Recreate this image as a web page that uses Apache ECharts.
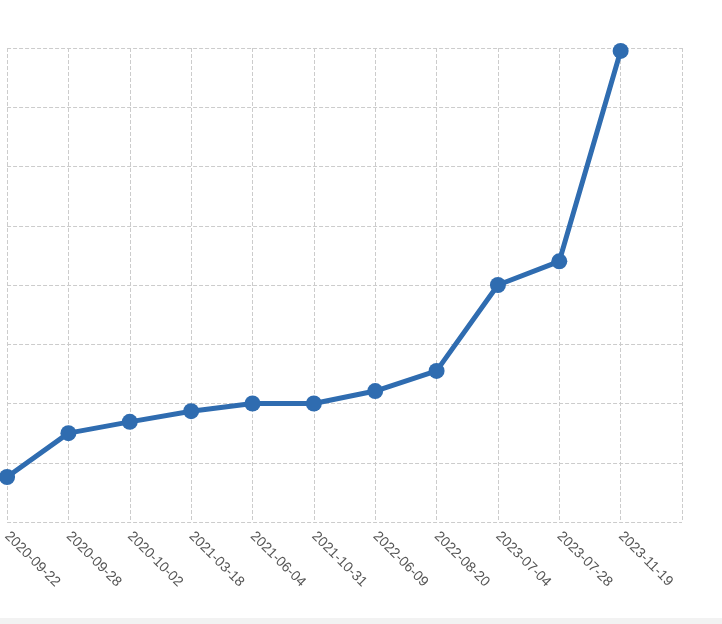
<!DOCTYPE html>
<html>
<head>
<meta charset="utf-8">
<script src="https://cdn.jsdelivr.net/npm/echarts@6/dist/echarts.min.js"></script>
<style>
  html, body { margin: 0; padding: 0; background: #f2f2f2; }
  #main { width: 722px; height: 618px; background: #fff; }
</style>
</head>
<body>
<div id="main"></div>
<script>
var dates = ['2020-09-22', '2020-09-28', '2020-10-02', '2021-03-18', '2021-06-04', '2021-10-31',
  '2022-06-09', '2022-08-20', '2023-07-04', '2023-07-28', '2023-11-19', ''];
var values = [0.76, 1.5, 1.69, 1.87, 2, 2, 2.21, 2.55, 4, 4.4, 7.95, null];

var myChart = echarts.init(document.getElementById('main'));
var option = {
  grid: { left: -7, right: 40, top: 48, bottom: 96 },
  xAxis: {
    type: 'category',
    data: dates,
    boundaryGap: false,
    axisLine: { show: false },
    axisTick: { show: false },
    axisLabel: { rotate: -45, color: '#555', fontSize: 14, margin: 12, fontFamily: 'Helvetica, Arial, sans-serif' },
    splitLine: { show: true, lineStyle: { type: 'dashed', color: '#ccc' } }
  },
  yAxis: {
    type: 'value',
    min: 0,
    max: 8,
    interval: 1,
    axisLabel: { show: false },
    axisLine: { show: false },
    axisTick: { show: false },
    splitLine: { lineStyle: { type: 'dashed', color: '#ccc' } }
  },
  series: [{
    type: 'line',
    data: values,
    symbol: 'circle',
    symbolSize: 16,
    itemStyle: { color: '#2f6cb0' },
    lineStyle: { width: 5, color: '#2f6cb0' }
  }]
};
myChart.setOption(option);
</script>
</body>
</html>
